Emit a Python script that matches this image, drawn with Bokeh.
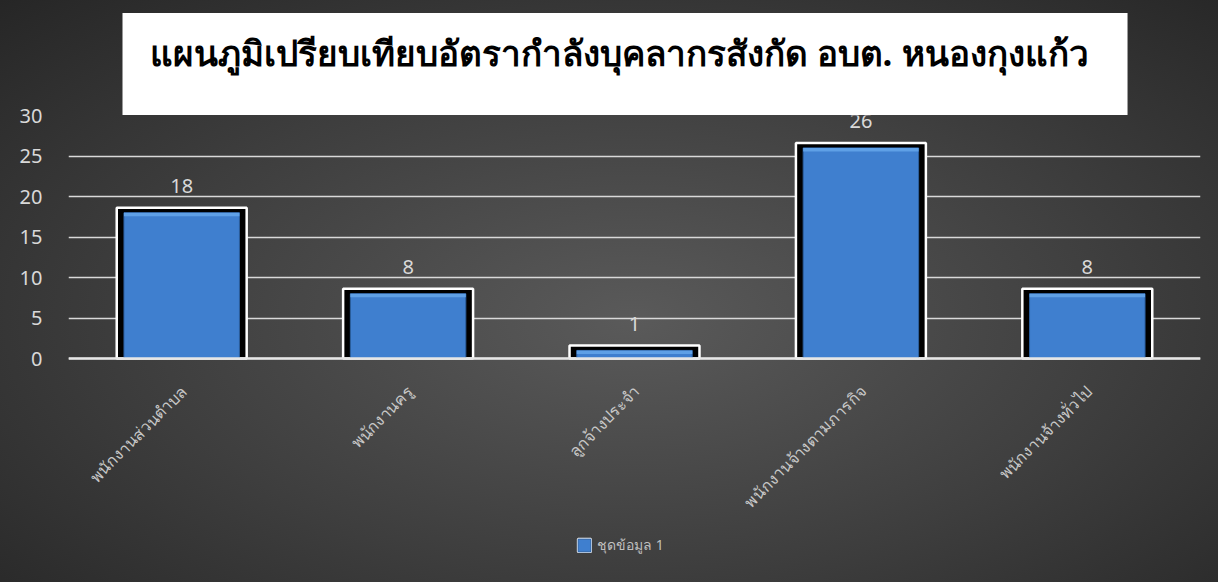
import math
from bokeh.plotting import figure
from bokeh.models import (ColumnDataSource, LabelSet, Legend, LegendItem, FixedTicker,
                          InlineStyleSheet, Range1d, Title, Span)
from bokeh.core.properties import value
from bokeh.embed import file_html
from bokeh.resources import INLINE

# ---- data ----
title_text = "แผนภูมิเปรียบเทียบอัตรากำลังบุคลากรสังกัด อบต. หนองกุงแก้ว"
categories = ["พนักงานส่วนตำบล", "พนักงานครู", "ลูกจ้างประจำ", "พนักงานจ้างตามภารกิจ", "พนักงานจ้างทั่วไป"]
values = [18, 8, 1, 26, 8]
series_name = "ชุดข้อมูล 1"
y_ticks = [0, 5, 10, 15, 20, 25, 30]

src = ColumnDataSource(dict(
    cat=categories,
    val=values,
    zero=[0] * len(values),
    outer_top=[v + 0.6 for v in values],
    hl_bottom=[max(v - 0.45, 0) for v in values],
    lab=[str(v) for v in values],
))

FONT = "Noto Sans"

# frame runs from the top of the value area down to the bottom of the picture,
# so the category labels and legend below the baseline stay inside it
p = figure(x_range=categories, y_range=Range1d(-27.65, 30), width=1218, height=582,
           output_backend="svg", toolbar_location=None,
           min_border_left=68, min_border_right=18, min_border_top=115, min_border_bottom=0)
p.x_range.range_padding = 0
p.border_fill_color = None
p.background_fill_color = None
p.outline_line_color = None
p.stylesheets = [InlineStyleSheet(css=":host { background: radial-gradient(ellipse farthest-corner at 52% 55%, #5a5a5a 0%, #3e3e3e 55%, #262626 100%); }")]

# title in a white box (padding: left, right, top, bottom)
p.title = Title(text=title_text, align="left", offset=54, standoff=1, vertical_align="bottom",
                text_font=FONT, text_font_size="35px", text_font_style="bold", text_color="black",
                background_fill_color="white", background_fill_alpha=1.0,
                padding=(27, 39, 16, 39))

# grid and axes
p.xgrid.grid_line_color = None
p.xaxis.visible = False
p.ygrid.grid_line_color = "#d9d9d9"
p.ygrid.grid_line_width = 1.5
p.ygrid.ticker = FixedTicker(ticks=y_ticks)
p.yaxis.ticker = FixedTicker(ticks=y_ticks)
p.yaxis.axis_line_color = None
p.yaxis.major_tick_line_color = None
p.yaxis.minor_tick_line_color = None
p.yaxis.major_label_text_color = "#d9d9d9"
p.yaxis.major_label_text_font_size = "20px"
p.yaxis.major_label_text_font = FONT
p.yaxis.major_label_standoff = 20

# bars: white-outlined black frame, blue body, lighter top bevel
outer = p.vbar(x="cat", top="outer_top", bottom=0, width=0.574, source=src,
               fill_color="black", line_color="white", line_width=2.5)
inner = p.vbar(x="cat", top="val", bottom=0, width=0.51, source=src,
               fill_color="#3f7fcf", line_color="#2c5f9e", line_width=1)
p.vbar(x="cat", top="val", bottom="hl_bottom", width=0.51, source=src,
       fill_color="#5fa0e6", line_color=None)

# baseline (category axis line)
p.add_layout(Span(location=0, dimension="width", line_color="#e6e6e6", line_width=2.5))

# value labels
labels = LabelSet(x="cat", y="outer_top", text="lab", source=src, text_align="center",
                  text_baseline="bottom", y_offset=15, text_color="#d9d9d9",
                  text_font_size="20px", text_font=value(FONT))
p.add_layout(labels)

# rotated category labels under the baseline
cat_labels = LabelSet(x="cat", y="zero", text="cat", source=src, angle=math.pi / 4,
                      text_align="right", text_baseline="middle", x_offset=2, y_offset=-30,
                      text_color="#c8c8c8", text_font_size="16px", text_font=value(FONT))
p.add_layout(cat_labels)

legend = Legend(items=[LegendItem(label=series_name, renderers=[outer, inner])],
                location=(508, 26), orientation="horizontal",
                background_fill_alpha=0, border_line_color=None,
                label_text_color="#bfbfbf", label_text_font_size="14px", label_text_font=FONT,
                glyph_width=16, glyph_height=16, padding=0, margin=0, label_standoff=5)
p.add_layout(legend)

open("out.html", "w").write(file_html(p, INLINE))
